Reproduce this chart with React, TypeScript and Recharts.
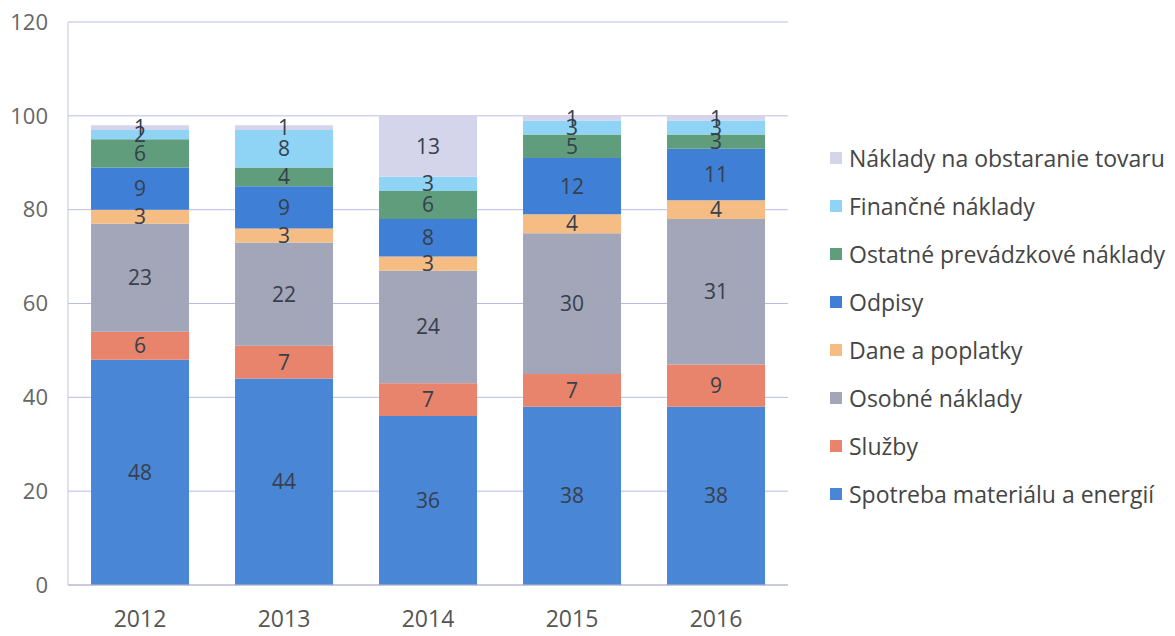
import { BarChart, Bar, XAxis, YAxis, CartesianGrid, LabelList } from "recharts";

const years = ["2012", "2013", "2014", "2015", "2016"];

const spotreba = [48, 44, 36, 38, 38];
const sluzby = [6, 7, 7, 7, 9];
const osobne = [23, 22, 24, 30, 31];
const dane = [3, 3, 3, 4, 4];
const odpisy = [9, 9, 8, 12, 11];
const ostatne = [6, 4, 6, 5, 3];
const financne = [2, 8, 3, 3, 3];
const tovar = [1, 1, 13, 1, 1];

const yTicks = [0, 20, 40, 60, 80, 100, 120];

const SERIES = [
  { key: "spotreba", label: "Spotreba materiálu a energií", color: "#4a86d6", values: spotreba },
  { key: "sluzby", label: "Služby", color: "#e8836c", values: sluzby },
  { key: "osobne", label: "Osobné náklady", color: "#a3a5b8", values: osobne },
  { key: "dane", label: "Dane a poplatky", color: "#f5bc84", values: dane },
  { key: "odpisy", label: "Odpisy", color: "#3f7fd6", values: odpisy },
  { key: "ostatne", label: "Ostatné prevádzkové náklady", color: "#5f9d7c", values: ostatne },
  { key: "financne", label: "Finančné náklady", color: "#8fd3f5", values: financne },
  { key: "tovar", label: "Náklady na obstaranie tovaru", color: "#d4d4ea", values: tovar },
];

const data = years.map((year, i) => {
  const row: Record<string, string | number> = { year };
  SERIES.forEach((s) => {
    row[s.key] = s.values[i];
  });
  return row;
});

const FONT = "'Open Sans', sans-serif";

function LegendBox() {
  return (
    <div style={{ position: "absolute", left: 830, top: 134, fontFamily: FONT }}>
      {[...SERIES].reverse().map((s) => (
        <div
          key={s.key}
          style={{ display: "flex", alignItems: "center", height: 48, fontSize: 23, color: "#454545", whiteSpace: "nowrap" }}
        >
          <span style={{ width: 12, height: 12, background: s.color, marginRight: 7, display: "inline-block" }} />
          {s.label}
        </div>
      ))}
    </div>
  );
}

export default function App() {
  return (
    <div style={{ position: "absolute", left: 0, top: 0, width: 1175, height: 636, background: "#fff" }}>
      <BarChart
        width={1175}
        height={636}
        data={data}
        margin={{ top: 22, right: 387, bottom: 11, left: 8 }}
        barCategoryGap="16%"
      >
        <CartesianGrid vertical={false} stroke="#b9bce8" />
        <XAxis
          dataKey="year"
          tickLine={false}
          axisLine={{ stroke: "#b8b8c8" }}
          tick={{ fill: "#555", fontSize: 23, fontFamily: FONT }}
          height={40}
          tickMargin={20}
        />
        <YAxis
          domain={[0, 120]}
          ticks={yTicks}
          width={60}
          tickLine={false}
          axisLine={{ stroke: "#c4c4dc" }}
          tick={{ fill: "#666", fontSize: 22, fontFamily: FONT }}
          tickMargin={14}
        />
        {SERIES.map((s) => (
          <Bar key={s.key} dataKey={s.key} stackId="a" fill={s.color} isAnimationActive={false}>
            <LabelList
              dataKey={s.key}
              position="center"
              fill="#36404c"
              fontSize={21}
              fontFamily={FONT}
            />
          </Bar>
        ))}
      </BarChart>
      <LegendBox />
    </div>
  );
}
